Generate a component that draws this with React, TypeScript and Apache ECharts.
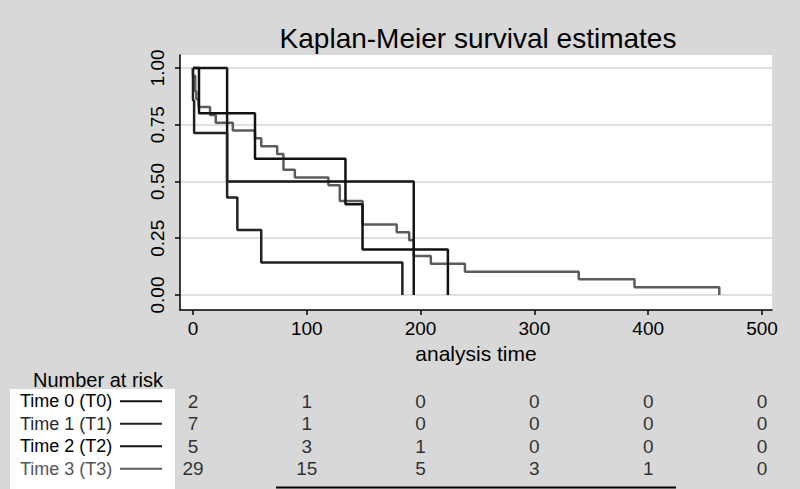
import React, { useEffect, useRef } from "react";
import * as echarts from "echarts";

// Kaplan-Meier step data (time, survival after event)
const t0Times = [0, 30, 194];
const t0Surv = [1, 0.5, 0];
const t1Times = [0, 0, 1, 30, 39, 60, 184];
const t1Surv = [1, 0.857, 0.714, 0.429, 0.286, 0.143, 0];
const t2Times = [0, 5.3, 54.5, 134, 149, 224];
const t2Surv = [1, 0.8, 0.6, 0.4, 0.2, 0];
const t3Times = [0, 0, 2, 3, 5, 15, 20, 35, 54.5, 60, 74, 79.5, 89.5, 119, 129, 149, 179, 190, 194, 209, 239, 339, 388, 462.5];
const t3Surv = [1, 0.966, 0.897, 0.862, 0.828, 0.793, 0.759, 0.724, 0.69, 0.655, 0.621, 0.552, 0.517, 0.483, 0.414, 0.31, 0.276, 0.241, 0.172, 0.138, 0.103, 0.069, 0.034, 0];

const xTicks = [0, 100, 200, 300, 400, 500];
const yTicks = [0, 0.25, 0.5, 0.75, 1];

const groupNames = ["Time 0 (T0)", "Time 1 (T1)", "Time 2 (T2)", "Time 3 (T3)"];
const groupKeys = ["T0", "T1", "T2", "T3"];
const riskTimes = [0, 100, 200, 300, 400, 500];
const riskT0 = [2, 1, 0, 0, 0, 0];
const riskT1 = [7, 1, 0, 0, 0, 0];
const riskT2 = [5, 3, 1, 0, 0, 0];
const riskT3 = [29, 15, 5, 3, 1, 0];

const lineColors = ["#151515", "#222222", "#111111", "#5c5c5c"];
const textColors = ["#000000", "#2a2a2a", "#000000", "#555555"];

const FONT = "Liberation Sans, Arial, sans-serif";

function zip(a: number[], b: number[]) {
  return a.map((v, i) => [v, b[i]]);
}

export default function App() {
  const ref = useRef<HTMLDivElement>(null);
  useEffect(() => {
    if (!ref.current) return;
    const chart = echarts.init(ref.current, null, { renderer: "svg" });
    const xMin = -11.4;
    const xMax = 508.8;
    const curves = [
      zip(t0Times, t0Surv),
      zip(t1Times, t1Surv),
      zip(t2Times, t2Surv),
      zip(t3Times, t3Surv),
    ];
    const risks = [riskT0, riskT1, riskT2, riskT3];
    const riskData: any[] = [];
    risks.forEach((row, gi) => {
      row.forEach((v, ti) => {
        riskData.push([riskTimes[ti], gi, v]);
      });
    });
    const rowY = [401.25, 423.75, 446.25, 468.75];
    const legendGraphics: any[] = [
      { type: "rect", shape: { x: 10, y: 389, width: 165, height: 100 }, style: { fill: "#ffffff" }, z: 1 },
      {
        type: "text", x: 98, y: 380, z: 2,
        style: { text: "Number at risk", font: `20px ${FONT}`, fill: "#000", align: "center", verticalAlign: "middle" },
      },
      {
        type: "text", x: 478, y: 38, z: 2,
        style: { text: "Kaplan-Meier survival estimates", font: `28px ${FONT}`, fill: "#000", align: "center", verticalAlign: "middle" },
      },
      { type: "line", shape: { x1: 276, y1: 487.5, x2: 676, y2: 487.5 }, style: { stroke: "#000", lineWidth: 2 }, z: 2 },
    ];
    groupNames.forEach((name, i) => {
      legendGraphics.push({
        type: "text", x: 20, y: rowY[i], z: 2,
        style: { text: name, font: `18px ${FONT}`, fill: textColors[i], align: "left", verticalAlign: "middle" },
      });
      legendGraphics.push({
        type: "line", z: 2,
        shape: { x1: 120, y1: rowY[i], x2: 162, y2: rowY[i] },
        style: { stroke: lineColors[i], lineWidth: 2 },
      });
    });

    const order = [3, 0, 1, 2];
    chart.setOption({
      animation: false,
      backgroundColor: "#d8d8d8",
      grid: [
        { left: 180, top: 55, width: 592, height: 255, show: true, backgroundColor: "#ffffff", borderWidth: 0, borderColor: "transparent" },
        { left: 180, top: 390, width: 592, height: 90, show: false },
      ],
      xAxis: [
        {
          type: "value", gridIndex: 0, min: xMin, max: xMax,
          name: "analysis time", nameLocation: "middle", nameGap: 32,
          nameTextStyle: { fontFamily: FONT, fontSize: 21, color: "#000" },
          axisLine: { show: true, onZero: false, lineStyle: { color: "#000", width: 1.5 } },
          axisTick: { show: true, length: 5, customValues: xTicks, lineStyle: { color: "#000", width: 1.5 } },
          axisLabel: { customValues: xTicks, margin: 9, fontFamily: FONT, fontSize: 19, color: "#000" },
          splitLine: { show: false },
        },
        { type: "value", gridIndex: 1, min: xMin, max: xMax, show: false },
      ],
      yAxis: [
        {
          type: "value", gridIndex: 0, min: -0.066, max: 1.057,
          axisLine: { show: true, onZero: false, lineStyle: { color: "#000", width: 1.5 } },
          axisTick: { show: true, length: 5, customValues: yTicks, lineStyle: { color: "#000", width: 1.5 } },
          axisLabel: {
            customValues: yTicks, rotate: 90, margin: 13, fontFamily: FONT, fontSize: 19, color: "#000",
            formatter: (v: number) => v.toFixed(2),
          },
          splitLine: { show: true, lineStyle: { color: "#d6d6d6", width: 1.5 } },
        },
        { type: "category", gridIndex: 1, data: groupKeys, inverse: true, show: false },
      ],
      series: [
        ...order.map((i) => ({
          type: "line", name: groupNames[i], xAxisIndex: 0, yAxisIndex: 0,
          data: curves[i], step: "end", showSymbol: false, symbol: "none",
          lineStyle: { color: lineColors[i], width: 2.5 }, z: 3,
        })),
        {
          type: "scatter", xAxisIndex: 1, yAxisIndex: 1, data: riskData, symbolSize: 1,
          itemStyle: { color: "rgba(0,0,0,0)" },
          label: {
            show: true, position: "inside", fontFamily: FONT, fontSize: 19, color: "#000",
            formatter: (p: any) => String(p.value[2]),
          },
        },
      ],
      graphic: legendGraphics,
    });
    return () => chart.dispose();
  }, []);
  return <div ref={ref} style={{ position: "fixed", left: 0, top: 0, width: 800, height: 489 }} />;
}
